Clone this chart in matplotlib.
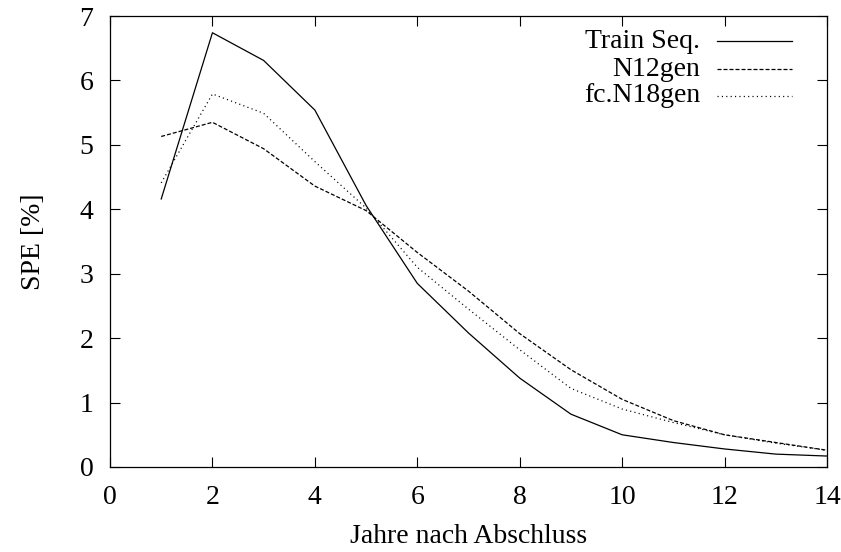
import matplotlib
matplotlib.use('Agg')
import matplotlib.pyplot as plt
from matplotlib.lines import Line2D

plt.rcParams['font.family'] = ['Liberation Serif', 'DejaVu Serif']
plt.rcParams['font.size'] = 20

# data
years = [1, 2, 3, 4, 5, 6, 7, 8, 9, 10, 11, 12, 13, 14]
train_seq = [4.16, 6.74, 6.31, 5.54, 4.06, 2.85, 2.08, 1.38, 0.82, 0.50, 0.38, 0.28, 0.20, 0.17]
n12gen = [5.13, 5.35, 4.94, 4.36, 3.98, 3.33, 2.73, 2.07, 1.51, 1.05, 0.72, 0.50, 0.38, 0.26]
fc_n18gen = [4.41, 5.79, 5.49, 4.74, 4.02, 3.10, 2.45, 1.82, 1.22, 0.90, 0.69, 0.50, 0.37, 0.26]

labels = ['Train Seq.', 'N12gen', 'fc.N18gen']
series = [train_seq, n12gen, fc_n18gen]
dash_styles = [None, (3.2, 1.6), (0.9, 2.6)]

fig = plt.figure(figsize=(8.41, 5.52), dpi=100)
ax = fig.add_axes([110/841, 85/552, 717/841, 451/552])

lw = 0.9
for vals, ds in zip(series, dash_styles):
    line, = ax.plot(years, vals, color='black', lw=lw)
    if ds is not None:
        line.set_dashes(ds)

ax.set_xlim(0, 14)
ax.set_ylim(0, 7)
ax.set_xticks(range(0, 15, 2))
ax.set_yticks(range(0, 8))
ax.tick_params(direction='in', length=7, width=0.8, top=True, right=True,
               labelsize=20)
ax.tick_params(axis='x', pad=13)
ax.tick_params(axis='y', pad=12)
for s in ax.spines.values():
    s.set_linewidth(0.9)

ax.set_xlabel('Jahre nach Abschluss', labelpad=10)
ax.set_ylabel('SPE [%]', labelpad=24)

# gnuplot style key: right aligned text followed by the line sample
row_y = [41, 69, 96]
for lab, ds, yp in zip(labels, dash_styles, row_y):
    yf = 1 - yp/552
    fig.text(700/841, yf, lab, ha='right', va='center', fontsize=20)
    ln = Line2D([717/841, 792/841], [yf, yf], transform=fig.transFigure,
                color='black', lw=lw)
    if ds is not None:
        ln.set_dashes(ds)
    fig.add_artist(ln)

fig.savefig('out.png', dpi=100)
